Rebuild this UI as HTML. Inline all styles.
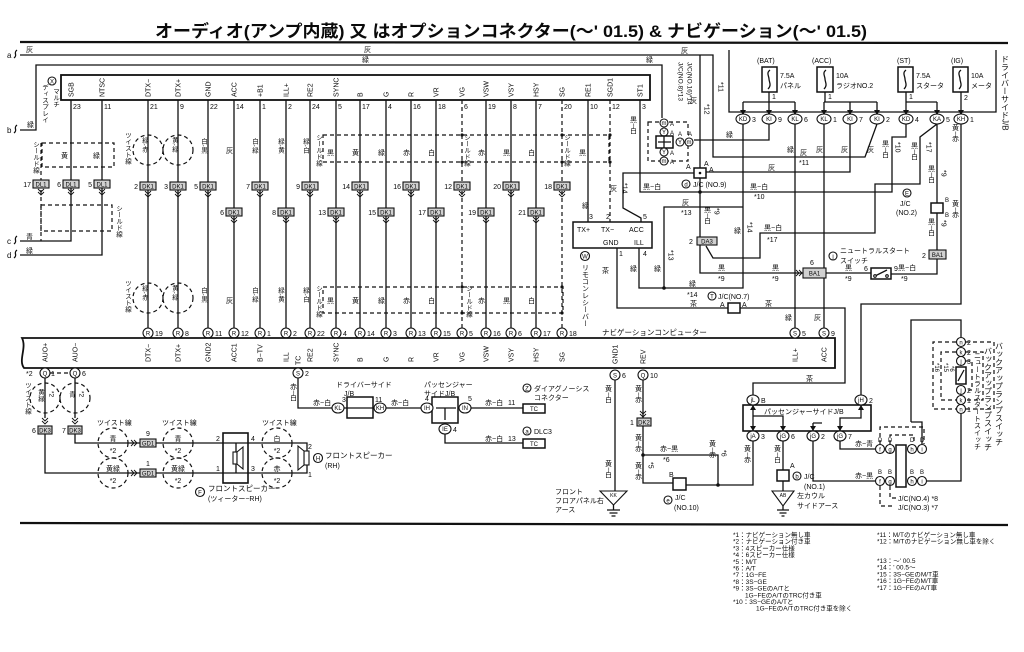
<!DOCTYPE html>
<html><head><meta charset="utf-8">
<style>
html,body{margin:0;padding:0;background:#fff}
svg{display:block}
text{font-family:"Liberation Sans","Noto Sans CJK JP",sans-serif;fill:#0a0a0a}
.s{font-size:7px}
.x{font-size:6px}
.m{font-size:8px}
.v{writing-mode:vertical-rl;font-size:7px}
.vm{writing-mode:vertical-rl;font-size:8px}
.w{fill:none;stroke:#111;stroke-width:1.3}
.d{fill:none;stroke:#111;stroke-width:1.2;stroke-dasharray:4 3}
.c{fill:#fff;stroke:#111;stroke-width:1.1}
.b{fill:#fff;stroke:#111;stroke-width:1.5}
.k{fill:#d0d0d0;stroke:#111;stroke-width:1.1}
.f{fill:#111}
</style></head><body>
<svg width="1024" height="652" viewBox="0 0 1024 652" xmlns="http://www.w3.org/2000/svg">
<rect width="1024" height="652" fill="#fff"/>

<!-- TITLE -->
<text x="155" y="37" style="font-size:17px;font-weight:bold" textLength="712" lengthAdjust="spacingAndGlyphs">オーディオ(アンプ内蔵) 又 はオプションコネクター(〜' 01.5) &amp; ナビゲーション(〜' 01.5)</text>
<path d="M20,42 L1008,43" stroke="#111" stroke-width="2.2"/>

<!-- left wire labels -->
<text x="7" y="58" class="m">a</text><path class="w" d="M14,58 C18,55 13,53 17,50"/>
<text x="7" y="133" class="m">b</text><path class="w" d="M14,133 C18,130 13,128 17,125"/>
<text x="7" y="244" class="m">c</text><path class="w" d="M14,244 C18,241 13,239 17,236"/>
<text x="7" y="258" class="m">d</text><path class="w" d="M14,258 C18,255 13,253 17,250"/>
<text x="26" y="52" class="s">灰</text>
<text x="364" y="52" class="s">灰</text>
<text x="681" y="53" class="s">灰</text>
<text x="27" y="127" class="s">緑</text>
<text x="362" y="62" class="s">緑</text>
<text x="646" y="62" class="s">緑</text>
<text x="26" y="239" class="s">青</text>
<text x="26" y="253" class="s">緑</text>

<!-- MAIN WIRES -->
<path class="w" d="M20,55H713V157H865L877,124
M20,130H36V65H662V118
M71,100V241H20
M102,100V255H20
M148,100V328 M178,100V328 M208,100V328 M234,100V328 M260,100V328 M286,100V328 M310,100V328 M336,100V328 M360,100V328 M386,100V328 M411,100V328 M436,100V328 M486,100V328 M511,100V328 M536,100V328
M588,100V222
M640,100V192H892V137H906V124
M700,55V168 M700,177V273H803 M826,273H871 M891,274H937V259 M937,250V213 M937,203V124
M743,124V288H639V248
M743,207H664V288
M769,124V140H694
M795,124V328 M824,124V328
M850,124V172H706
M694,173H623V208L641,218V222
M937,124L920,137V184H875V233H760V258H713L706,246
M961,124V304H861V395
M617,248V308H845V383H753V395
M911,422V320H961V337
M729,50V112H996V50"/>
<path class="d" d="M462,100V328 M562,100V328 M610,100V222 M41,143V180 M41,190V241"/>
<rect x="42" y="143" width="72" height="24" class="d"/>
<rect x="41" y="205" width="71" height="26" class="d"/>
<rect x="323" y="135" width="286" height="27" class="d"/>
<rect x="323" y="287" width="240" height="26" class="d"/>

<!-- dots -->
<circle cx="700" cy="192" r="1.8" class="f"/><circle cx="664" cy="288" r="1.8" class="f"/>
<circle cx="462" cy="135" r="1.6" class="f"/><circle cx="562" cy="135" r="1.6" class="f"/><circle cx="462" cy="162" r="1.6" class="f"/><circle cx="562" cy="162" r="1.6" class="f"/>
<circle cx="462" cy="287" r="1.6" class="f"/><circle cx="562" cy="287" r="1.6" class="f"/><circle cx="462" cy="313" r="1.6" class="f"/><circle cx="562" cy="313" r="1.6" class="f"/>
<circle cx="610" cy="135" r="1.6" class="f"/><circle cx="610" cy="162" r="1.6" class="f"/>

<!-- TOP CONNECTOR BOX (multi display) -->
<rect x="61" y="75" width="589" height="25" class="b" style="stroke-width:1.8"/>
<circle cx="52" cy="81" r="4" class="c"/><text x="52" y="83.5" text-anchor="middle" class="x">X</text>
<text x="55" y="88" class="v" style="font-size:6.5px">マルチ</text>
<text x="44" y="84" class="v" style="font-size:6.5px">ディスプレイ</text>
<g class="s">
<text transform="translate(73.5,97) rotate(-90)">SGB</text><text x="73" y="109">23</text>
<text transform="translate(104.5,97) rotate(-90)">NTSC</text><text x="104" y="109">11</text>
<text transform="translate(150.5,97) rotate(-90)">DTX−</text><text x="150" y="109">21</text>
<text transform="translate(180.5,97) rotate(-90)">DTX+</text><text x="180" y="109">9</text>
<text transform="translate(210.5,97) rotate(-90)">GND</text><text x="210" y="109">22</text>
<text transform="translate(236.5,97) rotate(-90)">ACC</text><text x="236" y="109">14</text>
<text transform="translate(262.5,97) rotate(-90)">+B1</text><text x="262" y="109">1</text>
<text transform="translate(288.5,97) rotate(-90)">ILL+</text><text x="288" y="109">2</text>
<text transform="translate(312.5,97) rotate(-90)">RE2</text><text x="312" y="109">24</text>
<text transform="translate(338.5,97) rotate(-90)">SYNC</text><text x="338" y="109">5</text>
<text transform="translate(362.5,97) rotate(-90)">B</text><text x="362" y="109">17</text>
<text transform="translate(388.5,97) rotate(-90)">G</text><text x="388" y="109">4</text>
<text transform="translate(413.5,97) rotate(-90)">R</text><text x="413" y="109">16</text>
<text transform="translate(438.5,97) rotate(-90)">VR</text><text x="438" y="109">18</text>
<text transform="translate(464.5,97) rotate(-90)">VG</text><text x="464" y="109">6</text>
<text transform="translate(488.5,97) rotate(-90)">VSW</text><text x="488" y="109">19</text>
<text transform="translate(513.5,97) rotate(-90)">VSY</text><text x="513" y="109">8</text>
<text transform="translate(538.5,97) rotate(-90)">HSY</text><text x="538" y="109">7</text>
<text transform="translate(564.5,97) rotate(-90)">SG</text><text x="564" y="109">20</text>
<text transform="translate(590.5,97) rotate(-90)">RE1</text><text x="590" y="109">10</text>
<text transform="translate(612.5,97) rotate(-90)">SGD1</text><text x="612" y="109">12</text>
<text transform="translate(642.5,97) rotate(-90)">ST1</text><text x="642" y="109">3</text>
</g>

<!-- shield / twist labels -->
<text x="35" y="141" class="v" style="font-size:6.5px">シールド線</text>
<text x="118" y="205" class="v" style="font-size:6.5px">シールド線</text>
<text x="318" y="134" class="v" style="font-size:6.5px">シールド線</text>
<text x="466" y="134" class="v" style="font-size:6.5px">シールド線</text>
<text x="566" y="134" class="v" style="font-size:6.5px">シールド線</text>
<text x="318" y="285" class="v" style="font-size:6.5px">シールド線</text>
<text x="468" y="285" class="v" style="font-size:6.5px">シールド線</text>
<text x="127" y="132" class="v" style="font-size:6.5px">ツイスト線</text>
<text x="127" y="280" class="v" style="font-size:6.5px">ツイスト線</text>
<circle cx="148" cy="150" r="15" class="d"/><circle cx="178" cy="150" r="15" class="d"/>
<circle cx="148" cy="298" r="15" class="d"/><circle cx="178" cy="298" r="15" class="d"/>

<!-- wire colour labels -->
<g class="s">
<text x="61" y="158">黄</text><text x="93" y="158">緑</text>
<text x="327" y="155">黒</text><text x="352" y="155">黄</text><text x="378" y="155">緑</text><text x="403" y="155">赤</text><text x="428" y="155">白</text>
<text x="478" y="155">赤</text><text x="503" y="155">黒</text><text x="528" y="155">白</text><text x="579" y="155">黒</text>
<text x="226" y="153">灰</text>
<text x="327" y="303">黒</text><text x="352" y="303">黄</text><text x="378" y="303">緑</text><text x="403" y="303">赤</text><text x="428" y="303">白</text>
<text x="478" y="303">赤</text><text x="503" y="303">黒</text><text x="528" y="303">白</text>
<text x="226" y="303">灰</text>
</g>
<g class="v" style="font-size:6.5px">
<text x="144" y="137">緑-赤</text><text x="174" y="137">黄-緑</text>
<text x="203" y="138">白-黒</text><text x="254" y="138">白-緑</text><text x="280" y="138">緑-黄</text><text x="305" y="138">緑-白</text>
<text x="144" y="285">緑-赤</text><text x="174" y="285">黄-緑</text>
<text x="203" y="287">白-黒</text><text x="254" y="287">白-緑</text><text x="280" y="287">緑-黄</text><text x="305" y="287">緑-白</text>
</g>

<!-- DL1 / DK1 connectors -->
<g class="x">
<rect x="33" y="180" width="16" height="8" class="k"/><text x="41" y="186.5" text-anchor="middle">DL1</text><text x="31" y="187" text-anchor="end" class="s">17</text>
<rect x="63" y="180" width="16" height="8" class="k"/><text x="71" y="186.5" text-anchor="middle">DL1</text><text x="61" y="187" text-anchor="end" class="s">6</text>
<rect x="94" y="180" width="16" height="8" class="k"/><text x="102" y="186.5" text-anchor="middle">DL1</text><text x="92" y="187" text-anchor="end" class="s">5</text>

<rect x="140" y="182" width="16" height="8" class="k"/><text x="148" y="188.5" text-anchor="middle">DK1</text><text x="138" y="189" text-anchor="end" class="s">2</text>
<rect x="170" y="182" width="16" height="8" class="k"/><text x="178" y="188.5" text-anchor="middle">DK1</text><text x="168" y="189" text-anchor="end" class="s">3</text>
<rect x="200" y="182" width="16" height="8" class="k"/><text x="208" y="188.5" text-anchor="middle">DK1</text><text x="198" y="189" text-anchor="end" class="s">5</text>
<rect x="252" y="182" width="16" height="8" class="k"/><text x="260" y="188.5" text-anchor="middle">DK1</text><text x="250" y="189" text-anchor="end" class="s">7</text>
<rect x="302" y="182" width="16" height="8" class="k"/><text x="310" y="188.5" text-anchor="middle">DK1</text><text x="300" y="189" text-anchor="end" class="s">9</text>
<rect x="352" y="182" width="16" height="8" class="k"/><text x="360" y="188.5" text-anchor="middle">DK1</text><text x="350" y="189" text-anchor="end" class="s">14</text>
<rect x="403" y="182" width="16" height="8" class="k"/><text x="411" y="188.5" text-anchor="middle">DK1</text><text x="401" y="189" text-anchor="end" class="s">16</text>
<rect x="454" y="182" width="16" height="8" class="k"/><text x="462" y="188.5" text-anchor="middle">DK1</text><text x="452" y="189" text-anchor="end" class="s">12</text>
<rect x="503" y="182" width="16" height="8" class="k"/><text x="511" y="188.5" text-anchor="middle">DK1</text><text x="501" y="189" text-anchor="end" class="s">20</text>
<rect x="554" y="182" width="16" height="8" class="k"/><text x="562" y="188.5" text-anchor="middle">DK1</text><text x="552" y="189" text-anchor="end" class="s">18</text>

<rect x="226" y="208" width="16" height="8" class="k"/><text x="234" y="214.5" text-anchor="middle">DK1</text><text x="224" y="215" text-anchor="end" class="s">6</text>
<rect x="278" y="208" width="16" height="8" class="k"/><text x="286" y="214.5" text-anchor="middle">DK1</text><text x="276" y="215" text-anchor="end" class="s">8</text>
<rect x="328" y="208" width="16" height="8" class="k"/><text x="336" y="214.5" text-anchor="middle">DK1</text><text x="326" y="215" text-anchor="end" class="s">13</text>
<rect x="378" y="208" width="16" height="8" class="k"/><text x="386" y="214.5" text-anchor="middle">DK1</text><text x="376" y="215" text-anchor="end" class="s">15</text>
<rect x="428" y="208" width="16" height="8" class="k"/><text x="436" y="214.5" text-anchor="middle">DK1</text><text x="426" y="215" text-anchor="end" class="s">17</text>
<rect x="478" y="208" width="16" height="8" class="k"/><text x="486" y="214.5" text-anchor="middle">DK1</text><text x="476" y="215" text-anchor="end" class="s">19</text>
<rect x="528" y="208" width="16" height="8" class="k"/><text x="536" y="214.5" text-anchor="middle">DK1</text><text x="526" y="215" text-anchor="end" class="s">21</text>
</g>
<path class="w" style="stroke-width:0.9" d="
M38,189L41,192L44,189M38,192L41,195L44,192 M68,189L71,192L74,189M68,192L71,195L74,192 M99,189L102,192L105,189M99,192L102,195L105,192
M145,191L148,194L151,191M145,194L148,197L151,194 M175,191L178,194L181,191M175,194L178,197L181,194 M205,191L208,194L211,191M205,194L208,197L211,194
M257,191L260,194L263,191M257,194L260,197L263,194 M307,191L310,194L313,191M307,194L310,197L313,194 M357,191L360,194L363,191M357,194L360,197L363,194
M408,191L411,194L414,191M408,194L411,197L414,194 M459,191L462,194L465,191M459,194L462,197L465,194 M508,191L511,194L514,191M508,194L511,197L514,194
M559,191L562,194L565,191M559,194L562,197L565,194
M231,217L234,220L237,217M231,220L234,223L237,220 M283,217L286,220L289,217M283,220L286,223L289,220 M333,217L336,220L339,217M333,220L336,223L339,220
M383,217L386,220L389,217M383,220L386,223L389,220 M433,217L436,220L439,217M433,220L436,223L439,220 M483,217L486,220L489,217M483,220L486,223L489,220
M533,217L536,220L539,217M533,220L536,223L539,220"/>

<!-- R connectors -->
<g class="s">
<circle cx="148" cy="333" r="5" class="c"/><text x="148" y="335.5" text-anchor="middle" class="x">R</text><text x="155" y="336">19</text>
<circle cx="178" cy="333" r="5" class="c"/><text x="178" y="335.5" text-anchor="middle" class="x">R</text><text x="185" y="336">8</text>
<circle cx="208" cy="333" r="5" class="c"/><text x="208" y="335.5" text-anchor="middle" class="x">R</text><text x="215" y="336">11</text>
<circle cx="234" cy="333" r="5" class="c"/><text x="234" y="335.5" text-anchor="middle" class="x">R</text><text x="241" y="336">12</text>
<circle cx="260" cy="333" r="5" class="c"/><text x="260" y="335.5" text-anchor="middle" class="x">R</text><text x="267" y="336">1</text>
<circle cx="286" cy="333" r="5" class="c"/><text x="286" y="335.5" text-anchor="middle" class="x">R</text><text x="293" y="336">2</text>
<circle cx="310" cy="333" r="5" class="c"/><text x="310" y="335.5" text-anchor="middle" class="x">R</text><text x="317" y="336">22</text>
<circle cx="336" cy="333" r="5" class="c"/><text x="336" y="335.5" text-anchor="middle" class="x">R</text><text x="343" y="336">4</text>
<circle cx="360" cy="333" r="5" class="c"/><text x="360" y="335.5" text-anchor="middle" class="x">R</text><text x="367" y="336">14</text>
<circle cx="386" cy="333" r="5" class="c"/><text x="386" y="335.5" text-anchor="middle" class="x">R</text><text x="393" y="336">3</text>
<circle cx="411" cy="333" r="5" class="c"/><text x="411" y="335.5" text-anchor="middle" class="x">R</text><text x="418" y="336">13</text>
<circle cx="436" cy="333" r="5" class="c"/><text x="436" y="335.5" text-anchor="middle" class="x">R</text><text x="443" y="336">15</text>
<circle cx="462" cy="333" r="5" class="c"/><text x="462" y="335.5" text-anchor="middle" class="x">R</text><text x="469" y="336">5</text>
<circle cx="486" cy="333" r="5" class="c"/><text x="486" y="335.5" text-anchor="middle" class="x">R</text><text x="493" y="336">16</text>
<circle cx="511" cy="333" r="5" class="c"/><text x="511" y="335.5" text-anchor="middle" class="x">R</text><text x="518" y="336">6</text>
<circle cx="536" cy="333" r="5" class="c"/><text x="536" y="335.5" text-anchor="middle" class="x">R</text><text x="543" y="336">17</text>
<circle cx="562" cy="333" r="5" class="c"/><text x="562" y="335.5" text-anchor="middle" class="x">R</text><text x="569" y="336">18</text>
</g>

<!-- NAV COMPUTER BOX -->
<path class="w" style="stroke-width:1.8" d="M22,338H835V368H24 C18,360 27,348 22,338Z"/>
<text x="602" y="335" class="s" style="font-size:7.5px">ナビゲーションコンピューター</text>
<g class="s">
<text transform="translate(47.5,362) rotate(-90)">AUO+</text>
<text transform="translate(77.5,362) rotate(-90)">AUO−</text>
<text transform="translate(150.5,362) rotate(-90)">DTX−</text>
<text transform="translate(180.5,362) rotate(-90)">DTX+</text>
<text transform="translate(210.5,362) rotate(-90)">GND2</text>
<text transform="translate(236.5,362) rotate(-90)">ACC1</text>
<text transform="translate(262.5,362) rotate(-90)">B−TV</text>
<text transform="translate(288.5,362) rotate(-90)">ILL</text>
<text transform="translate(312.5,362) rotate(-90)">RE2</text>
<text transform="translate(338.5,362) rotate(-90)">SYNC</text>
<text transform="translate(362.5,362) rotate(-90)">B</text>
<text transform="translate(388.5,362) rotate(-90)">G</text>
<text transform="translate(413.5,362) rotate(-90)">R</text>
<text transform="translate(438.5,362) rotate(-90)">VR</text>
<text transform="translate(464.5,362) rotate(-90)">VG</text>
<text transform="translate(488.5,362) rotate(-90)">VSW</text>
<text transform="translate(513.5,362) rotate(-90)">VSY</text>
<text transform="translate(538.5,362) rotate(-90)">HSY</text>
<text transform="translate(564.5,362) rotate(-90)">SG</text>
<text transform="translate(300.5,365) rotate(-90)">TC</text>
<text transform="translate(617.5,364) rotate(-90)">GND1</text>
<text transform="translate(645.5,364) rotate(-90)">REV</text>
<text transform="translate(797.5,362) rotate(-90)">ILL+</text>
<text transform="translate(826.5,362) rotate(-90)">ACC</text>
</g>

<!-- S connectors above nav right -->
<g class="s">
<circle cx="795" cy="333" r="5" class="c"/><text x="795" y="335.5" text-anchor="middle" class="x">S</text><text x="802" y="336">5</text>
<circle cx="824" cy="333" r="5" class="c"/><text x="824" y="335.5" text-anchor="middle" class="x">S</text><text x="831" y="336">9</text>
<text x="785" y="320">緑</text><text x="814" y="320">灰</text>
</g>

<!-- REMOTE RECEIVER -->
<rect x="573" y="222" width="79" height="26" class="b"/>
<g class="s">
<text x="577" y="232">TX+</text><text x="601" y="232">TX−</text><text x="629" y="232">ACC</text>
<text x="603" y="245">GND</text><text x="634" y="245">ILL</text>
<text x="589" y="219">3</text><text x="606" y="219">2</text><text x="643" y="219">5</text>
<text x="619" y="256">1</text><text x="643" y="256">4</text>
<text x="582" y="208">緑</text>
<text x="602" y="273">茶</text>
<text x="630" y="271">緑</text><text x="654" y="271">緑</text>
</g>
<circle cx="585" cy="256" r="4.5" class="c"/><text x="585" y="258.5" text-anchor="middle" class="x">W</text>
<text x="585" y="264" class="v">リモコンレシーバー</text>
<text x="613" y="185" class="v">灰</text><text x="624" y="183" class="v">*14</text>
<text x="633" y="116" class="v">黒−白</text>
<text x="670" y="250" class="v">*13</text>

<!-- J/C NO.8/16 cluster -->
<rect x="648" y="122" width="40" height="39" class="d"/>
<g class="x">
<circle cx="664" cy="123" r="4" class="c"/><text x="664" y="125" text-anchor="middle">m</text><text x="670" y="126">A</text>
<circle cx="664" cy="132" r="4" class="c"/><text x="664" y="134" text-anchor="middle">Y</text><text x="670" y="135">A</text>
<rect x="656" y="136" width="17" height="12" class="b"/><path class="w" d="M658,142H671M664,136V148"/>
<circle cx="664" cy="152" r="4" class="c"/><text x="664" y="154" text-anchor="middle">Y</text><text x="670" y="155">A</text>
<circle cx="664" cy="161" r="4" class="c"/><text x="664" y="163" text-anchor="middle">m</text><text x="670" y="164">A</text>
<circle cx="680" cy="142" r="4" class="c"/><text x="680" y="144" text-anchor="middle">Y</text><text x="678" y="136">A</text>
<circle cx="689" cy="142" r="4" class="c"/><text x="689" y="144" text-anchor="middle">m</text><text x="688" y="136">A</text>
</g>
<text x="680" y="62" class="v" style="font-size:6.5px">J/C(NO.8)*13</text>
<text x="689" y="62" class="v" style="font-size:6.5px">J/C(NO.16)*14</text>
<text x="690" y="103" class="s">灰</text><text x="706" y="104" class="v">*12</text>
<text x="720" y="82" class="v">*11</text>

<!-- J/C NO.9 -->
<rect x="694" y="168" width="12" height="10" class="b"/><circle cx="700" cy="173" r="1.3" class="f"/>
<g class="s">
<text x="686" y="169">A</text><text x="704" y="166">A</text><text x="709" y="172">A</text>
<circle cx="686" cy="184" r="4" class="c"/><text x="686" y="186.5" text-anchor="middle" class="x">d</text>
<text x="693" y="187">J/C (NO.9)</text>
<text x="643" y="189">黒−白</text>
<text x="750" y="189">黒−白</text><text x="754" y="199">*10</text>
<text x="682" y="205">灰</text><text x="681" y="215">*13</text>
<text x="768" y="170">灰</text>
<text x="800" y="155">灰</text><text x="799" y="165">*11</text>
<text x="726" y="137">緑</text>
<text x="787" y="152">緑</text><text x="816" y="152">灰</text><text x="841" y="152">灰</text><text x="867" y="152">灰</text>
</g>
<text x="885" y="140" class="v">黒−白</text><text x="897" y="142" class="v">*10</text>
<text x="914" y="142" class="v">黒−白</text><text x="928" y="142" class="v">*17</text>
<text x="931" y="165" class="v">黒−白</text><text x="943" y="170" class="v">*9</text>
<text x="931" y="218" class="v">黒−白</text><text x="943" y="220" class="v">*9</text>
<text x="955" y="124" class="v">黄−赤</text>
<text x="955" y="200" class="v">黄−赤</text>

<!-- DA3 etc -->
<rect x="697" y="237" width="20" height="8" class="k"/><text x="707" y="243.5" text-anchor="middle" class="x">DA3</text>
<text x="689" y="244" class="s">2</text>
<text x="707" y="206" class="v">黒−白</text><text x="716" y="208" class="v">*9</text>
<text x="734" y="233" class="s">緑</text><text x="749" y="222" class="v">*14</text>
<text x="764" y="230" class="s">黒−白</text><text x="767" y="242" class="s">*17</text>
<g class="s">
<text x="718" y="270">黒</text><text x="718" y="281">*9</text>
<text x="772" y="270">黒</text><text x="772" y="281">*9</text>
<text x="845" y="270">黒</text><text x="845" y="281">*9</text>
<text x="898" y="270">黒−白</text><text x="901" y="281">*9</text>
<text x="810" y="265">6</text><text x="864" y="271">6</text><text x="894" y="271">9</text><text x="922" y="258">2</text>
<text x="689" y="286">緑</text><text x="687" y="297">*14</text>
</g>
<rect x="803" y="268" width="23" height="10" class="k"/><text x="814.5" y="275.5" text-anchor="middle" class="x">BA1</text>
<path class="w" style="stroke-width:0.9" d="M796,270L799,273L796,276M799,270L802,273L799,276"/>
<rect x="929" y="250" width="17" height="9" class="k"/><text x="937.5" y="257" text-anchor="middle" class="x">BA1</text>
<rect x="871" y="268" width="20" height="11" class="b"/><path class="w" d="M875,276L887,270"/>
<circle cx="875" cy="276" r="1.3" class="c"/><circle cx="887" cy="276" r="1.3" class="c"/>
<circle cx="833" cy="256" r="4" class="c"/><text x="833" y="258.5" text-anchor="middle" class="x">j</text>
<text x="840" y="253" class="s">ニュートラルスタート</text><text x="840" y="263" class="s">スイッチ</text>

<!-- J/C NO.2 -->
<rect x="931" y="203" width="12" height="10" class="b"/>
<text x="945" y="202" class="x">B</text><text x="945" y="217" class="x">B</text>
<circle cx="907" cy="193" r="4" class="c"/><text x="907" y="195.5" text-anchor="middle" class="x">E</text>
<text x="900" y="206" class="s">J/C</text><text x="896" y="215" class="s">(NO.2)</text>

<!-- J/C NO.7 -->
<rect x="728" y="303" width="12" height="10" class="b"/>
<circle cx="712" cy="296" r="4" class="c"/><text x="712" y="298.5" text-anchor="middle" class="x">T</text>
<g class="s">
<text x="718" y="299">J/C(NO.7)</text>
<text x="720" y="307">A</text><text x="742" y="307">A</text>
<text x="690" y="306">茶</text><text x="765" y="306">茶</text>
</g>

<!-- DRIVER SIDE J/B + fuses -->
<text x="1005" y="55" class="vm">ドライバーサイドJ/B</text>
<g>
<rect x="762" y="67" width="15" height="25" class="b"/><path class="w" d="M770,70c-4,3 -1,6 -1,9s3,6 -1,10"/>
<rect x="817" y="67" width="16" height="25" class="b"/><path class="w" d="M826,70c-4,3 -1,6 -1,9s3,6 -1,10"/>
<rect x="898" y="67" width="15" height="25" class="b"/><path class="w" d="M906,70c-4,3 -1,6 -1,9s3,6 -1,10"/>
<rect x="953" y="67" width="15" height="25" class="b"/><path class="w" d="M961,70c-4,3 -1,6 -1,9s3,6 -1,10"/>
</g>
<g class="s">
<text x="757" y="63">(BAT)</text><text x="780" y="78">7.5A</text><text x="780" y="88">パネル</text>
<text x="812" y="63">(ACC)</text><text x="836" y="78">10A</text><text x="836" y="88">ラジオNO.2</text>
<text x="897" y="63">(ST)</text><text x="916" y="78">7.5A</text><text x="916" y="88">スタータ</text>
<text x="951" y="63">(IG)</text><text x="971" y="78">10A</text><text x="971" y="88">メータ</text>
<text x="772" y="99">1</text><text x="828" y="99">1</text><text x="909" y="99">1</text><text x="964" y="100">2</text>
</g>
<path class="w" d="M769,92V102 M743,102H795 M743,102V114 M769,102V114 M795,102V114
M825,92V102 M824,102H877 M824,102V114 M850,102V114 M877,102V114
M906,92V102 M906,102H937 M906,102V114 M937,102V114 M961,92V114"/>
<g class="f">
<polygon points="740,110 746,110 743,115"/><polygon points="766,110 772,110 769,115"/><polygon points="792,110 798,110 795,115"/>
<polygon points="821,110 827,110 824,115"/><polygon points="847,110 853,110 850,115"/><polygon points="874,110 880,110 877,115"/>
<polygon points="903,110 909,110 906,115"/><polygon points="934,110 940,110 937,115"/><polygon points="958,110 964,110 961,115"/>
</g>
<g class="x">
<ellipse cx="743" cy="119" rx="7" ry="5" class="c"/><text x="743" y="121" text-anchor="middle">KD</text><text x="752" y="122" class="s">3</text>
<ellipse cx="769" cy="119" rx="7" ry="5" class="c"/><text x="769" y="121" text-anchor="middle">KI</text><text x="778" y="122" class="s">9</text>
<ellipse cx="795" cy="119" rx="7" ry="5" class="c"/><text x="795" y="121" text-anchor="middle">KL</text><text x="804" y="122" class="s">6</text>
<ellipse cx="824" cy="119" rx="7" ry="5" class="c"/><text x="824" y="121" text-anchor="middle">KL</text><text x="833" y="122" class="s">1</text>
<ellipse cx="850" cy="119" rx="7" ry="5" class="c"/><text x="850" y="121" text-anchor="middle">KI</text><text x="859" y="122" class="s">7</text>
<ellipse cx="877" cy="119" rx="7" ry="5" class="c"/><text x="877" y="121" text-anchor="middle">KI</text><text x="886" y="122" class="s">2</text>
<ellipse cx="906" cy="119" rx="7" ry="5" class="c"/><text x="906" y="121" text-anchor="middle">KD</text><text x="915" y="122" class="s">4</text>
<ellipse cx="937" cy="119" rx="7" ry="5" class="c"/><text x="937" y="121" text-anchor="middle">KA</text><text x="946" y="122" class="s">5</text>
<ellipse cx="961" cy="119" rx="7" ry="5" class="c"/><text x="961" y="121" text-anchor="middle">KH</text><text x="970" y="122" class="s">1</text>
</g>

<!-- BOTTOM LEFT: AUO + speakers -->
<path class="w" d="M45,378V418 M45,434V473H223 M75,378V418 M75,434V443H223 M223,443H236V473H223 M236,443H248 M236,473H248 M248,443H307V451 M248,473H307V465"/>
<path class="d" d="M50,373H70"/>
<g class="s">
<circle cx="45" cy="373" r="5" class="c"/><text x="45" y="375.5" text-anchor="middle" class="x">Q</text><text x="51" y="376">1</text><text x="26" y="376">*2</text>
<circle cx="75" cy="373" r="5" class="c"/><text x="75" y="375.5" text-anchor="middle" class="x">Q</text><text x="82" y="376">6</text>
<circle cx="298" cy="373" r="5" class="c"/><text x="298" y="375.5" text-anchor="middle" class="x">S</text><text x="305" y="376">2</text>
<circle cx="615" cy="375" r="5" class="c"/><text x="615" y="377.5" text-anchor="middle" class="x">S</text><text x="622" y="378">6</text>
<circle cx="643" cy="375" r="5" class="c"/><text x="643" y="377.5" text-anchor="middle" class="x">Q</text><text x="650" y="378">10</text>
</g>
<circle cx="45" cy="398" r="15" class="d"/><circle cx="75" cy="398" r="15" class="d"/>
<text x="27" y="382" class="v" style="font-size:6.5px">ツイスト線</text>
<text x="40" y="389" class="v" style="font-size:6.5px">黄緑</text><text x="51" y="391" class="v" style="font-size:6.5px">*2</text>
<text x="71" y="391" class="v" style="font-size:6.5px">青</text><text x="81" y="391" class="v" style="font-size:6.5px">*2</text>
<path class="w" style="stroke-width:0.9" d="M42,418L45,421L48,418M42,421L45,424L48,421 M72,418L75,421L78,418M72,421L75,424L78,421"/>
<rect x="38" y="426" width="14" height="8" class="k"/><text x="45" y="432.5" text-anchor="middle" class="x">DK3</text><text x="32" y="433" class="s">6</text>
<rect x="68" y="426" width="14" height="8" class="k"/><text x="75" y="432.5" text-anchor="middle" class="x">DK3</text><text x="62" y="433" class="s">7</text>

<g class="s">
<text x="97" y="425">ツイスト線</text><text x="162" y="425">ツイスト線</text><text x="262" y="425">ツイスト線</text>
</g>
<circle cx="113" cy="443" r="15" class="d"/><circle cx="113" cy="473" r="15" class="d"/>
<circle cx="178" cy="443" r="15" class="d"/><circle cx="178" cy="473" r="15" class="d"/>
<circle cx="277" cy="443" r="15" class="d"/><circle cx="277" cy="473" r="15" class="d"/>
<g class="s" text-anchor="middle">
<text x="113" y="441">青</text><text x="113" y="453">*2</text>
<text x="113" y="471">黄緑</text><text x="113" y="483">*2</text>
<text x="178" y="441">青</text><text x="178" y="453">*2</text>
<text x="178" y="471">黄緑</text><text x="178" y="483">*2</text>
<text x="277" y="441">白</text><text x="277" y="453">*2</text>
<text x="277" y="471">赤</text><text x="277" y="483">*2</text>
</g>
<rect x="140" y="439" width="16" height="8" class="k"/><text x="148" y="445.5" text-anchor="middle" class="x">GD1</text><text x="146" y="436" class="s">9</text>
<rect x="140" y="469" width="16" height="8" class="k"/><text x="148" y="475.5" text-anchor="middle" class="x">GD1</text><text x="146" y="466" class="s">1</text>
<path class="w" style="stroke-width:0.9" d="M131,440L134,443L131,446M134,440L137,443L134,446 M131,470L134,473L131,476M134,470L137,473L134,476"/>
<!-- speaker F -->
<rect x="223" y="433" width="25" height="50" class="w" style="stroke-width:1.6"/>
<rect x="233" y="452" width="4" height="12" class="c"/><polygon points="237,452 243,447 243,469 237,464" class="c"/>
<g class="s"><text x="216" y="441">2</text><text x="216" y="471">1</text><text x="251" y="441">4</text><text x="251" y="471">3</text>
<text x="308" y="449">2</text><text x="308" y="477">1</text></g>
<!-- speaker H -->
<rect x="304" y="451" width="5" height="14" class="c"/><polygon points="304,451 298,446 298,470 304,465" class="c"/>
<circle cx="318" cy="458" r="4.5" class="c"/><text x="318" y="460.5" text-anchor="middle" class="x">H</text>
<text x="325" y="458" class="s" style="font-size:7.5px">フロントスピーカー</text><text x="325" y="468" class="s">(RH)</text>
<circle cx="200" cy="492" r="4.5" class="c"/><text x="200" y="494.5" text-anchor="middle" class="x">F</text>
<text x="208" y="491" class="s" style="font-size:7.5px">フロントスピーカー</text><text x="208" y="501" class="s">(ツィーター−RH)</text>

<!-- TC / J/B small -->
<path class="w" d="M298,378V408H332 M373,408H421 M471,408H523 M445,434V443H523 M436,408H456 M445,408V420"/>
<text x="293" y="383" class="v">赤−白</text>
<rect x="347" y="397" width="26" height="21" class="w" style="stroke-width:1.5"/>
<path class="w" d="M344,408H380"/>
<g class="s">
<text x="313" y="405">赤−白</text><text x="391" y="405">赤−白</text><text x="485" y="405">赤−白</text><text x="485" y="441">赤−白</text>
<text x="342" y="402">3</text><text x="375" y="402">11</text><text x="425" y="401">4</text><text x="468" y="401">5</text><text x="453" y="432">4</text>
<text x="508" y="405">11</text><text x="508" y="441">13</text>
<text x="336" y="387">ドライバーサイド</text><text x="344" y="396">J/B</text>
<text x="424" y="387">パッセンジャー</text><text x="424" y="396">サイドJ/B</text>
<text x="534" y="391">ダイアグノーシス</text><text x="534" y="400">コネクター</text>
<text x="534" y="434">DLC3</text>
</g>
<ellipse cx="338" cy="408" rx="6" ry="5" class="c"/><text x="338" y="410" text-anchor="middle" class="x">KL</text>
<ellipse cx="380" cy="408" rx="6" ry="5" class="c"/><text x="380" y="410" text-anchor="middle" class="x">KH</text>
<rect x="432" y="397" width="26" height="26" class="w" style="stroke-width:1.5"/>
<ellipse cx="427" cy="408" rx="6" ry="5" class="c"/><text x="427" y="410" text-anchor="middle" class="x">IH</text>
<ellipse cx="465" cy="408" rx="6" ry="5" class="c"/><text x="465" y="410" text-anchor="middle" class="x">IN</text>
<ellipse cx="445" cy="429" rx="6" ry="5" class="c"/><text x="445" y="431" text-anchor="middle" class="x">IE</text>
<circle cx="527" cy="388" r="4" class="c"/><text x="527" y="390.5" text-anchor="middle" class="x">Z</text>
<circle cx="527" cy="431" r="4" class="c"/><text x="527" y="433.5" text-anchor="middle" class="x">a</text>
<rect x="523" y="404" width="22" height="9" class="b"/><text x="534" y="411" text-anchor="middle" class="x">TC</text>
<rect x="523" y="439" width="22" height="9" class="b"/><text x="534" y="446" text-anchor="middle" class="x">TC</text>

<!-- GND1 / REV -->
<path class="w" d="M615,380V491 M643,380V418 M643,426V483H673 M643,455H718V485 M686,485H753V441"/>
<circle cx="718" cy="485" r="1.8" class="f"/><circle cx="643" cy="455" r="1.8" class="f"/>
<polygon points="600,491 627,491 613.5,505" class="c"/><text x="613.5" y="497" text-anchor="middle" style="font-size:5px">KK</text>
<path class="w" d="M613.5,505V510 M607,510H620 M609.5,513H617.5 M611.5,516H615.5"/>
<text x="608" y="385" class="v">黄−白</text><text x="608" y="460" class="v">黄−白</text>
<text x="638" y="385" class="v">黄−赤</text><text x="638" y="434" class="v">黄−赤</text><text x="638" y="462" class="v">黄−赤</text>
<text x="650" y="462" class="v">*5</text>
<rect x="637" y="418" width="14" height="8" class="k"/><text x="644" y="424.5" text-anchor="middle" class="x">DK2</text><text x="630" y="425" class="s">1</text>
<path class="w" style="stroke-width:0.9" d="M640,411L643,414L646,411M640,414L643,417L646,414"/>
<g class="s">
<text x="555" y="494">フロント</text><text x="555" y="503">フロアパネル右</text><text x="555" y="512">アース</text>
<text x="660" y="451">赤−黒</text><text x="663" y="462">*6</text>
<text x="669" y="477">B</text>
</g>
<text x="712" y="440" class="v">黄−赤</text><text x="723" y="450" class="v">*6</text>
<rect x="673" y="478" width="13" height="12" class="b"/>
<circle cx="668" cy="500" r="4" class="c"/><text x="668" y="502.5" text-anchor="middle" class="x">e</text>
<text x="675" y="500" class="s">J/C</text><text x="674" y="510" class="s">(NO.10)</text>

<!-- PASSENGER J/B LOWER -->
<rect x="743" y="405" width="128" height="26" class="w" style="stroke-width:1.6"/>
<text x="764" y="414" class="s">パッセンジャーサイドJ/B</text>
<path class="w" d="M753,405V431 M753,416H783V431 M861,405V418H840V431 M813,423V431 M813,423H822"/>
<g class="f">
<polygon points="750,410 756,410 753,405"/><polygon points="858,410 864,410 861,405"/>
<polygon points="750,426 756,426 753,431"/><polygon points="780,426 786,426 783,431"/><polygon points="810,426 816,426 813,431"/><polygon points="837,426 843,426 840,431"/>
</g>
<g class="x">
<ellipse cx="753" cy="400" rx="6" ry="5" class="c"/><text x="753" y="402" text-anchor="middle">jL</text><text x="761" y="403" class="s">B</text>
<ellipse cx="861" cy="400" rx="6" ry="5" class="c"/><text x="861" y="402" text-anchor="middle">jH</text><text x="869" y="403" class="s">2</text>
<ellipse cx="753" cy="436" rx="6" ry="5" class="c"/><text x="753" y="438" text-anchor="middle">jA</text><text x="761" y="439" class="s">3</text>
<ellipse cx="783" cy="436" rx="6" ry="5" class="c"/><text x="783" y="438" text-anchor="middle">jG</text><text x="791" y="439" class="s">6</text>
<ellipse cx="813" cy="436" rx="6" ry="5" class="c"/><text x="813" y="438" text-anchor="middle">jG</text><text x="821" y="439" class="s">2</text>
<ellipse cx="840" cy="436" rx="6" ry="5" class="c"/><text x="840" y="438" text-anchor="middle">jG</text><text x="848" y="439" class="s">7</text>
</g>
<text x="806" y="381" class="s">茶</text>
<text x="747" y="445" class="v">黄−赤</text>
<text x="777" y="445" class="v">黄−白</text>
<path class="w" d="M783,441V470 M783,481V491 M813,441V481H875 M840,441V449H875 M927,481H961V414 M922,444V422H911"/>
<rect x="777" y="470" width="12" height="11" class="b"/><text x="790" y="468" class="s">A</text>
<circle cx="797" cy="476" r="4" class="c"/><text x="797" y="478.5" text-anchor="middle" class="x">b</text>
<text x="804" y="479" class="s">J/C</text><text x="804" y="489" class="s">(NO.1)</text>
<polygon points="772,491 794,491 783,506" class="c"/><text x="783" y="497" text-anchor="middle" style="font-size:5px">AB</text>
<path class="w" d="M783,506V510 M777,510H789 M779.5,513H786.5 M781.5,516H784.5"/>
<text x="797" y="498" class="s">左カウル</text><text x="797" y="508" class="s">サイドアース</text>
<text x="855" y="446" class="s">赤−青</text><text x="855" y="478" class="s">赤−黒</text>

<!-- J/C NO.3/4 block -->
<path class="d" d="M880,444V427H924V444 M880,486V506H893 M890,444V435H914V444 M890,486V498H897"/>
<rect x="896" y="445" width="10" height="42" class="b"/>
<g class="x">
<circle cx="880" cy="449" r="4.5" class="c"/><text x="880" y="451.5" text-anchor="middle">f</text>
<circle cx="890" cy="449" r="4.5" class="c"/><text x="890" y="451.5" text-anchor="middle">g</text>
<circle cx="912" cy="449" r="4.5" class="c"/><text x="912" y="451.5" text-anchor="middle">h</text>
<circle cx="922" cy="449" r="4.5" class="c"/><text x="922" y="451.5" text-anchor="middle">i</text>
<circle cx="880" cy="481" r="4.5" class="c"/><text x="880" y="483.5" text-anchor="middle">f</text>
<circle cx="890" cy="481" r="4.5" class="c"/><text x="890" y="483.5" text-anchor="middle">g</text>
<circle cx="912" cy="481" r="4.5" class="c"/><text x="912" y="483.5" text-anchor="middle">h</text>
<circle cx="922" cy="481" r="4.5" class="c"/><text x="922" y="483.5" text-anchor="middle">i</text>
<text x="878" y="442">D</text><text x="888" y="442">D</text><text x="910" y="442">D</text><text x="920" y="442">D</text>
<text x="878" y="474">B</text><text x="888" y="474">B</text><text x="910" y="474">B</text><text x="920" y="474">B</text>
</g>
<text x="898" y="501" class="s">J/C(NO.4) *8</text>
<text x="898" y="510" class="s">J/C(NO.3) *7</text>

<!-- neutral/backup switch column -->
<path class="d" d="M966,342H994V409H966 M956,342H933V409H956 M966,352H983V400H966 M956,352H941V400H956 M966,361H972V390H966"/>
<g class="x">
<circle cx="961" cy="342" r="4.5" class="c"/><text x="961" y="344.5" text-anchor="middle">n</text><text x="967" y="345" class="s">2</text>
<circle cx="961" cy="352" r="4.5" class="c"/><text x="961" y="354.5" text-anchor="middle">k</text><text x="967" y="355" class="s">2</text>
<circle cx="961" cy="361" r="4.5" class="c"/><text x="961" y="363.5" text-anchor="middle">j</text><text x="967" y="364" class="s">3</text>
<circle cx="961" cy="390" r="4.5" class="c"/><text x="961" y="392.5" text-anchor="middle">j</text><text x="967" y="393" class="s">2</text>
<circle cx="961" cy="400" r="4.5" class="c"/><text x="961" y="402.5" text-anchor="middle">k</text><text x="967" y="403" class="s">1</text>
<circle cx="961" cy="409" r="4.5" class="c"/><text x="961" y="411.5" text-anchor="middle">n</text><text x="967" y="412" class="s">1</text>
</g>
<rect x="956" y="367" width="10" height="17" class="b"/><path class="w" d="M958,381L964,370"/>
<text x="936" y="363" class="v" style="font-size:6px">*16</text>
<text x="945" y="363" class="v" style="font-size:6px">*15</text>
<text x="951" y="366" class="v" style="font-size:6px">*6</text>
<text x="999" y="342" class="vm">バックアップランプスイッチ</text>
<text x="988" y="347" class="vm">バックアップランプスイッチ</text>
<text x="977" y="352" class="v">ニュートラルスタートスイッチ</text>

<!-- bottom separator -->
<path d="M20,523 L1008,525" stroke="#111" stroke-width="2.2"/>

<!-- LEGEND -->
<g style="font-size:6.5px">
<text x="733" y="537">*1：ナビゲーション無し車</text>
<text x="733" y="543.7">*2：ナビゲーション付き車</text>
<text x="733" y="550.4">*3：4スピーカー仕様</text>
<text x="733" y="557.1">*4：6スピーカー仕様</text>
<text x="733" y="563.8">*5：M/T</text>
<text x="733" y="570.5">*6：A/T</text>
<text x="733" y="577.2">*7：1G−FE</text>
<text x="733" y="583.9">*8：3S−GE</text>
<text x="733" y="590.6">*9：3S−GEのA/Tと</text>
<text x="745" y="597.3">1G−FEのA/TのTRC付き車</text>
<text x="733" y="604">*10：3S−GEのA/Tと</text>
<text x="756" y="610.7">1G−FEのA/TのTRC付き車を除く</text>
<text x="877" y="537">*11：M/Tのナビゲーション無し車</text>
<text x="877" y="543.7">*12：M/Tのナビゲーション無し車を除く</text>
<text x="877" y="563">*13：〜' 00.5</text>
<text x="877" y="569.7">*14：' 00.5〜</text>
<text x="877" y="576.4">*15：3S−GEのM/T車</text>
<text x="877" y="583.1">*16：1G−FEのM/T車</text>
<text x="877" y="589.8">*17：1G−FEのA/T車</text>
</g>
</svg>
</body></html>
